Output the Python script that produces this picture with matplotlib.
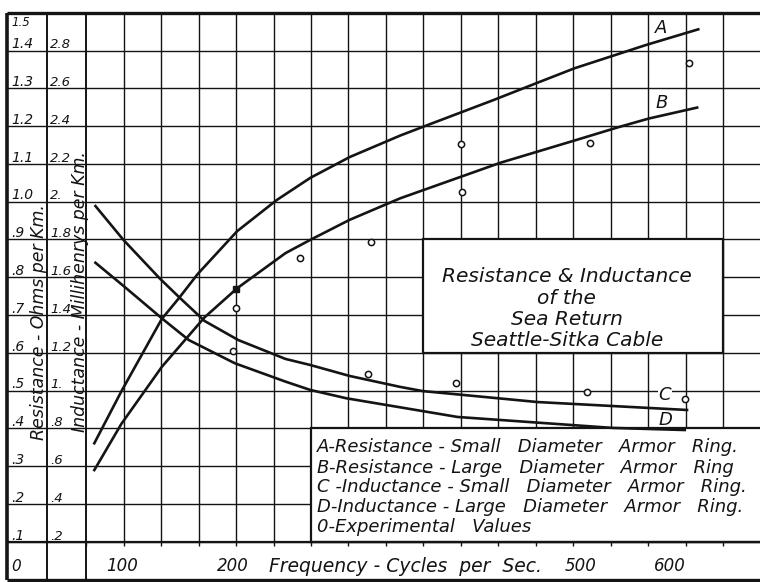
import matplotlib.pyplot as plt
from matplotlib.patches import Rectangle

# frequency in cycles per second, resistance in ohms per km
freq_a = [74, 98, 134, 149, 166, 201, 236, 266, 301, 346, 367, 429, 470, 501, 565, 611]
res_a = [0.361, 0.498, 0.690, 0.744, 0.809, 0.922, 1.004, 1.063, 1.118, 1.175, 1.199,
         1.269, 1.317, 1.353, 1.415, 1.456]

freq_b = [74, 98, 134, 172, 201, 244, 266, 301, 346, 435, 500, 541, 567, 610]
res_b = [0.290, 0.412, 0.563, 0.694, 0.771, 0.864, 0.899, 0.952, 1.009, 1.103,
         1.161, 1.198, 1.220, 1.249]

# inductance in millihenrys per km
freq_c = [75, 100, 132, 149, 172, 202, 244, 266, 301, 346, 366, 468, 601]
ind_c = [1.977, 1.797, 1.595, 1.497, 1.369, 1.268, 1.168, 1.136, 1.078, 1.020,
         0.998, 0.940, 0.898]

freq_d = [75, 101, 134, 158, 199, 244, 266, 298, 397, 535, 599]
ind_d = [1.677, 1.549, 1.383, 1.268, 1.145, 1.048, 1.004, 0.960, 0.861, 0.803, 0.792]

# experimental values
exp_res_freq = [200, 257, 320, 400, 401, 515, 603]
exp_res = [0.720, 0.852, 0.893, 1.153, 1.025, 1.155, 1.366]
exp_ind_freq = [197, 317, 396, 512, 599]
exp_ind = [1.210, 1.087, 1.039, 0.995, 0.956]
dot_freq = [200]
dot_res = [0.768]

res_ticks = [0.1, 0.2, 0.3, 0.4, 0.5, 0.6, 0.7, 0.8, 0.9, 1.0, 1.1, 1.2, 1.3, 1.4]
res_labels = ['.1', '.2', '.3', '.4', '.5', '.6', '.7', '.8', '.9', '1.0',
              '1.1', '1.2', '1.3', '1.4']
ind_labels = ['.2', '.4', '.6', '.8', '1.', '1.2', '1.4', '1.6', '1.8', '2.',
              '2.2', '2.4', '2.6', '2.8']
freq_labels = ['100', '200', '500', '600']
freq_label_pos = [99, 197, 506, 586]

legend_lines = [
    'A-Resistance - Small   Diameter   Armor   Ring.',
    'B-Resistance - Large   Diameter   Armor   Ring',
    'C -Inductance - Small   Diameter   Armor   Ring.',
    'D-Inductance - Large   Diameter   Armor   Ring.',
    '0-Experimental   Values',
]
title_lines = ['Resistance & Inductance', 'of the', 'Sea Return', 'Seattle-Sitka Cable']

# inductance axis is drawn at twice the resistance scale
IND = 0.5
INK = '#141414'

fig = plt.figure(figsize=(7.6, 5.82), dpi=100)
ax = fig.add_axes([0, 0, 1, 1])
ax.set_xlim(-9.87, 665.9)
ax.set_ylim(-0.0061, 1.5336)
ax.axis('off')

# grid
left_edge = -3.3
grid_x = [66.67 + 33.333 * k for k in range(19)]
ax.vlines(grid_x[1:], 0.1, 1.5, color=INK, lw=1.0, zorder=1)
ax.vlines([32.2, grid_x[0]], 0, 1.5, color=INK, lw=1.4, zorder=1)
ax.vlines(grid_x, 0.1, 0.088, color=INK, lw=1.0, zorder=4)
ax.hlines(res_ticks, left_edge, 700, color=INK, lw=1.0, zorder=1)
ax.hlines([0.1], left_edge, 700, color=INK, lw=1.6, zorder=4)
ax.hlines([0, 1.5], left_edge, 700, color=INK, lw=2.4, zorder=4)
ax.vlines([left_edge], 0, 1.5, color=INK, lw=2.6, zorder=4)

# boxes
ax.add_patch(Rectangle((366.67, 0.6), 266.67, 0.3, fc='white', ec=INK, lw=1.6, zorder=3))
ax.add_patch(Rectangle((266.67, 0.1), 450, 0.3, fc='white', ec=INK, lw=1.6, zorder=3))

# curves
ax.plot(freq_a, res_a, color=INK, lw=1.9, zorder=5)
ax.plot(freq_b, res_b, color=INK, lw=1.9, zorder=5)
ax.plot(freq_c, [v * IND for v in ind_c], color=INK, lw=1.9, zorder=5)
ax.plot(freq_d, [v * IND for v in ind_d], color=INK, lw=1.9, zorder=5)

ax.plot(exp_res_freq, exp_res, 'o', ms=4.5, mfc='white', mec=INK, mew=1.1, zorder=6)
ax.plot(exp_ind_freq, [v * IND for v in exp_ind], 'o', ms=4.5, mfc='white',
        mec=INK, mew=1.1, zorder=6)
ax.plot(dot_freq, dot_res, 's', ms=4.5, color=INK, zorder=6)

txt = dict(color=INK, style='italic', family='DejaVu Sans')

# curve letters
ax.text(577.6, 1.459, 'A', ha='center', va='center', fontsize=13, zorder=6, **txt)
ax.text(578.5, 1.260, 'B', ha='center', va='center', fontsize=13, zorder=6, **txt)
ax.text(581.4, 0.489, 'C', ha='center', va='center', fontsize=13, zorder=6,
        bbox=dict(fc='white', ec='none', pad=0.5), **txt)
ax.text(581.4, 0.423, 'D', ha='center', va='center', fontsize=13, zorder=6, **txt)

# axis tick labels
for r, s in zip(res_ticks, res_labels):
    ax.text(0.5, r + 0.006, s, ha='left', va='baseline', fontsize=10, zorder=6, **txt)
for r, s in zip(res_ticks, ind_labels):
    ax.text(34.6, r + 0.006, s, ha='left', va='baseline', fontsize=9.5, zorder=6, **txt)
ax.text(0.5, 1.492, '1.5', ha='left', va='top', fontsize=8.5, zorder=6, **txt)
ax.text(0.5, 0.036, '0', ha='left', va='center', fontsize=11, zorder=6, **txt)
for f, s in zip(freq_label_pos, freq_labels):
    ax.text(f, 0.036, s, ha='center', va='center', fontsize=12, zorder=6, **txt)
ax.text(229, 0.036, 'Frequency - Cycles  per  Sec.', ha='left', va='center',
        fontsize=13.5, zorder=6, **txt)

# axis titles
ax.text(24.8, 0.6825, 'Resistance - Ohms per Km.', rotation=90, ha='center',
        va='center', fontsize=12.5, zorder=6, **txt)
ax.text(61.6, 0.762, 'Inductance - Millihenrys per Km.', rotation=90, ha='center',
        va='center', fontsize=12.5, zorder=6, **txt)

# title block
for y, s in zip([0.8016, 0.744, 0.689, 0.634], title_lines):
    ax.text(494, y, s, ha='center', va='center', fontsize=14.5, zorder=6, **txt)

# legend block
for y, s in zip([0.352, 0.2966, 0.2463, 0.1926, 0.1397], legend_lines):
    ax.text(271.7, y, s, ha='left', va='center', fontsize=13, zorder=6, **txt)

fig.savefig('out.png', dpi=100, facecolor='white')
